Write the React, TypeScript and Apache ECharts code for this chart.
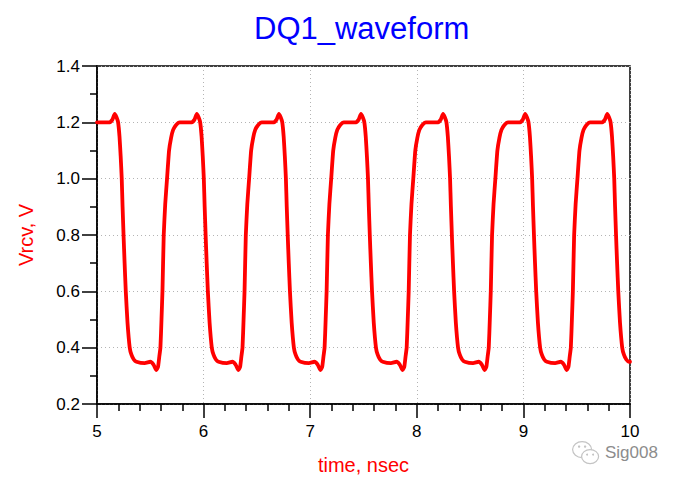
import React, { useEffect, useRef } from "react";
import * as echarts from "echarts";

// Tick labels
const xTicks = [5, 6, 7, 8, 9, 10];
const yTicks = [0.2, 0.4, 0.6, 0.8, 1.0, 1.2, 1.4];

// Waveform, cycle by cycle: [time (ns), Vrcv (V)]
const cycle0: number[][] = [
  [5.0, 1.2], [5.12, 1.2], [5.145, 1.21], [5.166, 1.23], [5.183, 1.218], [5.198, 1.2], [5.211, 1.15],
  [5.222, 1.08], [5.232, 1.0], [5.24, 0.9], [5.249, 0.8], [5.259, 0.7], [5.27, 0.6], [5.286, 0.49],
  [5.307, 0.4], [5.323, 0.375], [5.345, 0.358], [5.37, 0.35], [5.448, 0.345], [5.5, 0.35], [5.53, 0.34],
  [5.557, 0.32], [5.573, 0.333], [5.585, 0.37], [5.595, 0.4], [5.605, 0.5], [5.614, 0.6], [5.626, 0.8],
  [5.64, 0.91], [5.657, 1.0], [5.676, 1.1], [5.695, 1.145], [5.714, 1.173], [5.74, 1.19], [5.776, 1.2],
];
const cycle1: number[][] = [
  [5.89, 1.2], [5.915, 1.21], [5.936, 1.23], [5.953, 1.218], [5.968, 1.2], [5.981, 1.15],
  [5.992, 1.08], [6.002, 1.0], [6.01, 0.9], [6.019, 0.8], [6.029, 0.7], [6.04, 0.6], [6.056, 0.49],
  [6.077, 0.4], [6.093, 0.375], [6.115, 0.358], [6.14, 0.35], [6.218, 0.345], [6.27, 0.35], [6.3, 0.34],
  [6.327, 0.32], [6.343, 0.333], [6.355, 0.37], [6.365, 0.4], [6.375, 0.5], [6.384, 0.6], [6.396, 0.8],
  [6.41, 0.91], [6.427, 1.0], [6.446, 1.1], [6.465, 1.145], [6.484, 1.173], [6.51, 1.19], [6.546, 1.2],
];
const cycle2: number[][] = [
  [6.66, 1.2], [6.685, 1.21], [6.706, 1.23], [6.723, 1.218], [6.738, 1.2], [6.751, 1.15],
  [6.762, 1.08], [6.772, 1.0], [6.78, 0.9], [6.789, 0.8], [6.799, 0.7], [6.81, 0.6], [6.826, 0.49],
  [6.847, 0.4], [6.863, 0.375], [6.885, 0.358], [6.91, 0.35], [6.988, 0.345], [7.04, 0.35], [7.07, 0.34],
  [7.097, 0.32], [7.113, 0.333], [7.125, 0.37], [7.135, 0.4], [7.145, 0.5], [7.154, 0.6], [7.166, 0.8],
  [7.18, 0.91], [7.197, 1.0], [7.216, 1.1], [7.235, 1.145], [7.254, 1.173], [7.28, 1.19], [7.316, 1.2],
];
const cycle3: number[][] = [
  [7.43, 1.2], [7.455, 1.21], [7.476, 1.23], [7.493, 1.218], [7.508, 1.2], [7.521, 1.15],
  [7.532, 1.08], [7.542, 1.0], [7.55, 0.9], [7.559, 0.8], [7.569, 0.7], [7.58, 0.6], [7.596, 0.49],
  [7.617, 0.4], [7.633, 0.375], [7.655, 0.358], [7.68, 0.35], [7.758, 0.345], [7.81, 0.35], [7.84, 0.34],
  [7.867, 0.32], [7.883, 0.333], [7.895, 0.37], [7.905, 0.4], [7.915, 0.5], [7.924, 0.6], [7.936, 0.8],
  [7.95, 0.91], [7.967, 1.0], [7.986, 1.1], [8.005, 1.145], [8.024, 1.173], [8.05, 1.19], [8.086, 1.2],
];
const cycle4: number[][] = [
  [8.2, 1.2], [8.225, 1.21], [8.246, 1.23], [8.263, 1.218], [8.278, 1.2], [8.291, 1.15],
  [8.302, 1.08], [8.312, 1.0], [8.32, 0.9], [8.329, 0.8], [8.339, 0.7], [8.35, 0.6], [8.366, 0.49],
  [8.387, 0.4], [8.403, 0.375], [8.425, 0.358], [8.45, 0.35], [8.528, 0.345], [8.58, 0.35], [8.61, 0.34],
  [8.637, 0.32], [8.653, 0.333], [8.665, 0.37], [8.675, 0.4], [8.685, 0.5], [8.694, 0.6], [8.706, 0.8],
  [8.72, 0.91], [8.737, 1.0], [8.756, 1.1], [8.775, 1.145], [8.794, 1.173], [8.82, 1.19], [8.856, 1.2],
];
const cycle5: number[][] = [
  [8.97, 1.2], [8.995, 1.21], [9.016, 1.23], [9.033, 1.218], [9.048, 1.2], [9.061, 1.15],
  [9.072, 1.08], [9.082, 1.0], [9.09, 0.9], [9.099, 0.8], [9.109, 0.7], [9.12, 0.6], [9.136, 0.49],
  [9.157, 0.4], [9.173, 0.375], [9.195, 0.358], [9.22, 0.35], [9.298, 0.345], [9.35, 0.35], [9.38, 0.34],
  [9.407, 0.32], [9.423, 0.333], [9.435, 0.37], [9.445, 0.4], [9.455, 0.5], [9.464, 0.6], [9.476, 0.8],
  [9.49, 0.91], [9.507, 1.0], [9.526, 1.1], [9.545, 1.145], [9.564, 1.173], [9.59, 1.19], [9.626, 1.2],
];
const cycle6: number[][] = [
  [9.74, 1.2], [9.765, 1.21], [9.786, 1.23], [9.803, 1.218], [9.818, 1.2], [9.831, 1.15],
  [9.842, 1.08], [9.852, 1.0], [9.86, 0.9], [9.869, 0.8], [9.879, 0.7], [9.89, 0.6], [9.906, 0.49],
  [9.927, 0.4], [9.943, 0.375], [9.965, 0.358], [9.99, 0.35], [10.0, 0.35],
];

const waveform = [...cycle0, ...cycle1, ...cycle2, ...cycle3, ...cycle4, ...cycle5, ...cycle6];

const FONT = "'Liberation Sans', Arial, sans-serif";

export default function App() {
  const ref = useRef<HTMLDivElement>(null);

  useEffect(() => {
    if (!ref.current) return;
    const chart = echarts.init(ref.current, null, { renderer: "svg" });
    const gridLine = { show: true, lineStyle: { color: "#b4b4b4", type: [1, 3] as any, width: 1 } };
    chart.setOption({
      animation: false,
      backgroundColor: "#ffffff",
      grid: {
        left: 97,
        top: 66,
        width: 533,
        height: 338,
        show: true,
        borderColor: "#000",
        borderWidth: 1.5,
        backgroundColor: "transparent",
      },
      xAxis: {
        type: "value",
        min: xTicks[0],
        max: xTicks[xTicks.length - 1],
        interval: 1,
        name: "time, nsec",
        nameLocation: "middle",
        nameGap: 51,
        nameTextStyle: { color: "#ff0000", fontSize: 20, fontFamily: FONT },
        axisLine: { show: true, lineStyle: { color: "#000", width: 1.5 } },
        axisTick: { show: true, inside: false, length: 14, lineStyle: { color: "#000", width: 1.5 } },
        minorTick: { show: true, splitNumber: 5, length: 7, lineStyle: { color: "#000", width: 1.5 } },
        axisLabel: { color: "#000", fontSize: 17, fontFamily: FONT, margin: 19 },
        splitLine: gridLine,
        minorSplitLine: { show: false },
      },
      yAxis: {
        type: "value",
        min: yTicks[0],
        max: yTicks[yTicks.length - 1],
        interval: 0.2,
        name: "Vrcv, V",
        nameLocation: "middle",
        nameRotate: 90,
        nameGap: 61,
        nameTextStyle: { color: "#ff0000", fontSize: 20, fontFamily: FONT },
        axisLine: { show: true, lineStyle: { color: "#000", width: 1.5 } },
        axisTick: { show: true, inside: false, length: 15, lineStyle: { color: "#000", width: 1.5 } },
        minorTick: { show: true, splitNumber: 2, length: 7, lineStyle: { color: "#000", width: 1.5 } },
        axisLabel: {
          color: "#000",
          fontSize: 17,
          fontFamily: FONT,
          margin: 17,
          formatter: (v: number) => v.toFixed(1),
        },
        splitLine: gridLine,
        minorSplitLine: { show: false },
      },
      series: [
        {
          type: "line",
          data: waveform,
          showSymbol: false,
          smooth: 0.15,
          clip: true,
          lineStyle: { color: "#ff0000", width: 3.8, join: "round", cap: "round" },
          z: 5,
        },
      ],
      graphic: [
        {
          type: "text",
          left: 254,
          top: 13,
          style: {
            text: "DQ1_waveform",
            fill: "#0000ff",
            font: `31px ${FONT}`,
          },
        },
        {
          type: "group",
          left: 572,
          top: 441,
          children: [
            { type: "ellipse", shape: { cx: 10, cy: 9, rx: 9.5, ry: 8 }, style: { fill: "#fff", stroke: "#c4c4c4", lineWidth: 1.2 } },
            { type: "ellipse", shape: { cx: 18, cy: 16, rx: 8.5, ry: 7 }, style: { fill: "#fff", stroke: "#c4c4c4", lineWidth: 1.2 } },
            { type: "circle", shape: { cx: 7, cy: 6, r: 1.2 }, style: { fill: "#c4c4c4" } },
            { type: "circle", shape: { cx: 13, cy: 6, r: 1.2 }, style: { fill: "#c4c4c4" } },
            { type: "circle", shape: { cx: 15, cy: 14, r: 1 }, style: { fill: "#c4c4c4" } },
            { type: "circle", shape: { cx: 21, cy: 14, r: 1 }, style: { fill: "#c4c4c4" } },
          ],
        },
        {
          type: "text",
          left: 605,
          top: 444,
          style: { text: "Sig008", fill: "#8c8c8c", font: `17px ${FONT}` },
        },
      ],
    });
    return () => chart.dispose();
  }, []);

  return (
    <div
      ref={ref}
      style={{ position: "fixed", left: 0, top: 0, width: 678, height: 482, background: "#fff" }}
    />
  );
}
